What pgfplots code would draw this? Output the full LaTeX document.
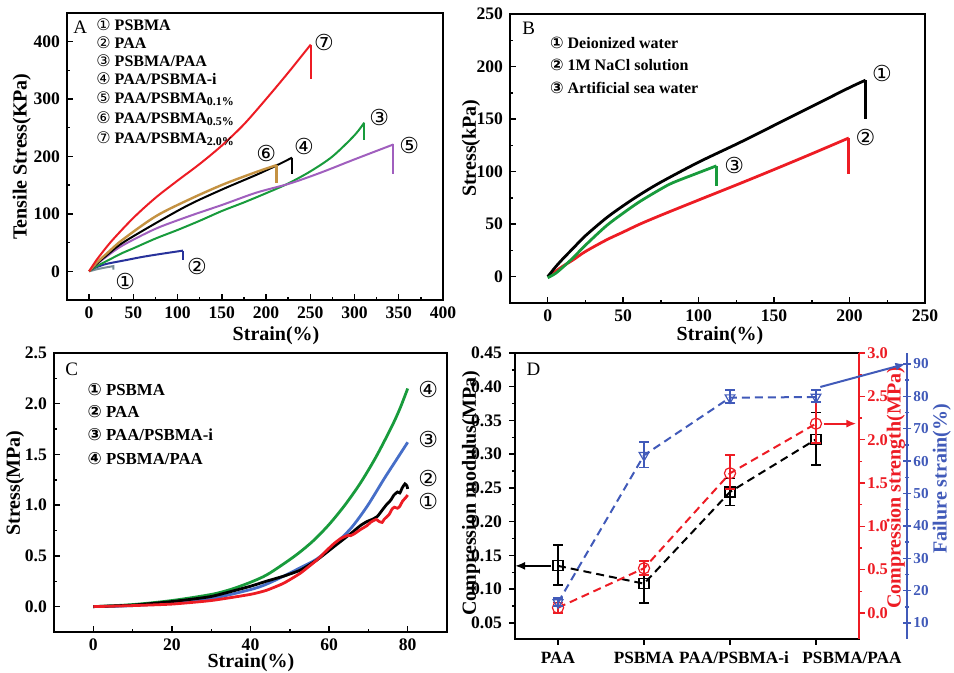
\documentclass[border=0pt]{standalone}
\usepackage{fontspec}
\setmainfont{Liberation Serif}
\newfontfamily\dv{DejaVu Sans}
\usepackage{pgfplots}
\pgfplotsset{compat=1.18}
\usetikzlibrary{arrows.meta}

\definecolor{cred}{RGB}{237,28,36}
\definecolor{cgreen}{RGB}{24,155,60}
\definecolor{cpurple}{RGB}{160,95,190}
\definecolor{cbrown}{RGB}{196,146,66}
\definecolor{cnavy}{RGB}{40,50,155}
\definecolor{cgray}{RGB}{120,140,150}
\definecolor{cblue}{RGB}{70,110,200}
\definecolor{dblue}{RGB}{65,90,185}

\pgfplotsset{
  panel/.style={
    scale only axis, anchor=south west, clip=false,
    axis line style={line width=0.9pt},
    tick align=inside, xtick pos=bottom, ytick pos=left,
    minor tick num=1,
    major tick length=3pt, minor tick length=1.6pt,
    every tick/.style={black, line width=0.7pt},
    tick label style={font=\fontsize{8.8}{9}\selectfont\bfseries},
    label style={font=\fontsize{10}{12}\selectfont\bfseries},
    /pgf/number format/assume math mode=true,
  },
  ylab/.style 2 args={ylabel style={at={(axis description cs:#1,#2)}, anchor=center}},
  xlab/.style 2 args={xlabel style={at={(axis description cs:#1,#2)}, anchor=center}},
}
\tikzset{cl/.style={font=\fontsize{11}{12}\selectfont\dv}}
\newcommand{\legfont}{\fontsize{8}{9}\selectfont\bfseries}
\newcommand{\legfontc}{\fontsize{8.4}{9}\selectfont\bfseries}

\begin{document}
\begin{tikzpicture}
\useasboundingbox (0,0) rectangle (477pt,336.5pt);

% ---------------- A
\begin{axis}[panel, at={(33.5pt,186.5pt)}, width=188pt, height=143.5pt,
  xmin=-25, xmax=400, ymin=-50, ymax=450,
  xtick={0,50,...,400}, ytick={0,100,...,400},
  xlabel={Strain(\%)}, ylabel={Tensile Stress(KPa)},
  ylab={-0.12}{0.5}, xlab={0.556}{-0.125}]
\addplot[cgray, line width=1pt] coordinates {(0,0) (10,4) (20,7) (27.5,9) (27.5,3)};
\addplot[cnavy, line width=1pt, smooth] coordinates {(0,0) (5,5) (10,8) (20,13) (40,19) (60,25) (80,30) (106,36)};
\addplot[cnavy, line width=1pt] coordinates {(106,36) (106,19)};
\addplot[cgreen, line width=1pt, smooth] coordinates {(0,0) (10,10) (20,18) (37.8,32) (50,40) (75,57) (100,72) (125,88) (150,105) (175,120) (200,136) (225,153) (250,174) (275,200) (300,237) (311,259)};
\addplot[cgreen, line width=1pt] coordinates {(311,259) (311,229)};
\addplot[cpurple, line width=1pt, smooth] coordinates {(0,0) (10,14) (20,26) (37.8,45) (75,74) (113,96) (151,116) (189,137) (227,153) (262,172) (300,195) (344,221)};
\addplot[cpurple, line width=1pt] coordinates {(344,221) (344,169)};
\addplot[black, line width=1pt, smooth] coordinates {(0,0) (10,15) (20,28) (37.8,49.5) (75.5,84) (113,116) (151,143) (189,168) (210,183) (229.5,198)};
\addplot[black, line width=1pt] coordinates {(229.5,198) (229.5,169)};
\addplot[cbrown, line width=1.2pt, smooth] coordinates {(0,0) (5,9) (10,17) (20,31) (37.8,55) (75.5,96) (113,125) (151,151) (189,173) (212,185)};
\addplot[cbrown, line width=1.2pt] coordinates {(212,185) (212,154)};
\addplot[cred, line width=1pt, smooth] coordinates {(0,0) (5,12) (10,23) (25,52) (50,93) (75,128) (100,158) (125,187) (150,219) (175,256) (200,300) (225,346) (250.5,395)};
\addplot[cred, line width=1pt] coordinates {(250.5,395) (250.5,335)};
\node[cl] at (axis cs:265.5,398.8) {⑦};
\node[cl] at (axis cs:327.8,267.8) {③};
\node[cl] at (axis cs:361.8,220) {⑤};
\node[cl] at (axis cs:242.9,217) {④};
\node[cl] at (axis cs:200.2,205.6) {⑥};
\node[cl] at (axis cs:122,8.7) {②};
\node[cl] at (axis cs:40.8,-17.5) {①};
\end{axis}

% ---------------- B
\begin{axis}[panel, at={(255pt,185pt)}, width=207.5pt, height=144.5pt,
  xmin=-25, xmax=250, ymin=-25, ymax=250,
  xtick={0,50,...,250}, ytick={0,50,...,250},
  xlabel={Strain(\%)}, ylabel={Stress(kPa)},
  ylab={-0.094}{0.536}, xlab={0.506}{-0.112}]
\addplot[cred, line width=1.4pt, smooth] coordinates {(0,0) (5,5) (10,10) (16.8,16) (25,24) (38.9,35) (50,42.5) (61,50) (75,58.5) (100,73) (127,88.5) (150,102) (175,117) (199.5,132)};
\addplot[cred, line width=1.4pt] coordinates {(199.5,132) (199.5,98)};
\addplot[black, line width=1.4pt, smooth] coordinates {(0,0) (5,9) (10,17) (16.8,27) (25,39) (38.9,56) (50,67.5) (61,78) (75,90) (100,109) (127,127.5) (150,144) (175,162) (200,180) (210.6,187)};
\addplot[black, line width=1.4pt] coordinates {(210.6,187) (210.6,150)};
\addplot[cgreen, line width=1.4pt, smooth] coordinates {(0,-1) (5,3) (10,9) (16.8,18) (25,30) (38.9,48.5) (50,60.5) (61,71.5) (75,83.5) (83,89.5) (100,99) (111.8,105.5)};
\addplot[cgreen, line width=1.4pt] coordinates {(111.8,105.5) (111.8,86)};
\node[cl] at (axis cs:221.5,193.5) {①};
\node[cl] at (axis cs:210.6,132.6) {②};
\node[cl] at (axis cs:123.6,106.3) {③};
\end{axis}

% ---------------- C
\begin{axis}[panel, at={(27pt,20.5pt)}, width=196.5pt, height=139.5pt,
  xmin=-10, xmax=90, ymin=-0.25, ymax=2.5,
  xtick={0,20,...,80}, ytick={0,0.5,1,1.5,2,2.5},
  yticklabel style={/pgf/number format/.cd, fixed, fixed zerofill, precision=1},
  xlabel={Strain(\%)}, ylabel={Stress(MPa)},
  ylab={-0.099}{0.534}, xlab={0.501}{-0.11}]
\addplot[cgreen, line width=1.4pt, smooth] coordinates {(0,0) (10,0.02) (20,0.06) (30,0.12) (35,0.17) (40,0.24) (44,0.31) (48,0.41) (52,0.52) (56,0.65) (60,0.81) (64,1.0) (68,1.22) (72,1.48) (76,1.78) (78,1.95) (80,2.15)};
\addplot[cblue, line width=1.4pt, smooth] coordinates {(0,0) (10,0.01) (20,0.04) (30,0.08) (39.9,0.167) (44,0.22) (48.4,0.30) (52,0.37) (56.9,0.47) (61,0.6) (65.5,0.77) (69.7,0.99) (74,1.26) (77,1.44) (80,1.62)};
\addplot[black, line width=1.4pt, smooth, tension=0.3] coordinates {(0,0) (10,0.015) (20,0.05) (30,0.1) (39.9,0.2) (44,0.25) (48.4,0.30) (52.7,0.36) (56.9,0.46) (61.2,0.59) (65.5,0.72) (68,0.8) (69.7,0.84) (71,0.86) (72.3,0.89) (73.5,0.95) (74.5,1.0) (75.7,1.05) (76.5,1.1) (77.4,1.13) (78,1.12) (78.6,1.17) (79.3,1.21) (79.8,1.19) (80,1.16)};
\addplot[cred, line width=1.4pt, smooth, tension=0.3] coordinates {(0,0) (10,0.01) (20,0.025) (30,0.06) (39.9,0.12) (44,0.16) (48.4,0.23) (52.7,0.33) (56.9,0.46) (59,0.54) (61.2,0.62) (62.9,0.67) (64.6,0.70) (65.5,0.70) (66.5,0.72) (68,0.76) (69.7,0.8) (70.5,0.83) (71.4,0.85) (72,0.86) (72.7,0.84) (73.5,0.83) (74,0.86) (75.3,0.91) (76,0.96) (76.6,0.98) (77.4,0.97) (78,0.99) (78.7,1.04) (79.4,1.07) (80,1.1)};
\node[cl] at (axis cs:85.2,2.14) {④};
\node[cl] at (axis cs:85.2,1.65) {③};
\node[cl] at (axis cs:85.2,1.26) {②};
\node[cl] at (axis cs:85.2,1.04) {①};
\end{axis}

% ---------------- D
\begin{axis}[panel, tick align=outside, at={(257.5pt,17pt)}, width=172pt, height=143pt,
  xmin=-0.5, xmax=3.5, ymin=0.026, ymax=0.45,
  xtick={0,1,2,3}, minor x tick num=0,
  xticklabels={PAA,PSBMA,\kern4pt PAA/PSBMA-i,\kern36pt PSBMA/PAA},
  xticklabel style={font=\fontsize{8.6}{10}\selectfont\bfseries},
  ytick={0.05,0.1,0.15,0.2,0.25,0.3,0.35,0.4,0.45},
  yticklabel style={/pgf/number format/.cd, fixed, fixed zerofill, precision=2},
  ylabel={Compression modulus(MPa)}, ylab={-0.128}{0.51}]
\addplot[black, line width=1pt, dash pattern=on 4pt off 2.5pt, mark=square, mark size=2.5pt,
  mark options={solid, fill=white, line width=0.6pt},
  error bars/.cd, y dir=both, y explicit,
  error bar style={solid, line width=0.8pt},
  error mark options={rotate=90, mark size=2.5pt, line width=0.8pt}]
  table[x=x, y=y, y error plus=p, y error minus=m] {
x y p m
0 0.1344 0.031 0.0285
1 0.108 0.034 0.029
2 0.244 0.020 0.020
3 0.322 0.040 0.038
};
\draw[-{Latex[length=5pt,width=4pt]}, line width=1pt] (axis cs:-0.08,0.1344) -- (axis cs:-0.5,0.1344);
\end{axis}

\begin{axis}[scale only axis, anchor=south west, clip=false, at={(257.5pt,17pt)}, width=172pt, height=143pt,
  xmin=-0.5, xmax=3.5, ymin=-0.3, ymax=3,
  hide x axis, axis y line*=right, tick align=outside,
  axis line style={cred, line width=0.9pt},
  every tick/.style={cred, line width=0.7pt}, major tick length=3pt, minor tick length=1.6pt,
  ytick={0,0.5,1,1.5,2,2.5,3}, minor y tick num=1,
  yticklabel style={cred, inner sep=1pt, font=\fontsize{8.2}{9}\selectfont\bfseries, /pgf/number format/.cd, fixed, fixed zerofill, precision=1},
  /pgf/number format/assume math mode=true,
  ylabel={Compression strength(MPa)},
  ylabel style={cred, font=\fontsize{10}{12}\selectfont\bfseries, at={(axis description cs:1.107,0.528)}, anchor=center}]
\addplot[cred, line width=1pt, dash pattern=on 4pt off 2.5pt, mark=o, mark size=2.8pt,
  mark options={solid, fill=white, line width=0.6pt},
  error bars/.cd, y dir=both, y explicit,
  error bar style={solid, line width=0.8pt},
  error mark options={rotate=90, mark size=2.5pt, line width=0.8pt}]
  table[x=x, y=y, y error plus=p, y error minus=m] {
x y p m
0 0.061 0.06 0.058
1 0.516 0.084 0.081
2 1.612 0.21 0.18
3 2.185 0.245 0.225
};
\draw[-{Latex[length=5pt,width=4pt]}, cred, line width=1pt] (axis cs:3.09,2.185) -- (axis cs:3.47,2.185);
\end{axis}

\begin{axis}[scale only axis, anchor=south west, clip=false, at={(257.5pt,17pt)}, width=196pt, height=143pt,
  xmin=-0.5, xmax=4.0581, ymin=5.06, ymax=93.4,
  hide x axis, axis y line*=right, tick align=center,
  axis line style={dblue, line width=0.9pt},
  every tick/.style={dblue, line width=0.7pt}, major tick length=4pt, minor tick length=2pt,
  ytick={10,20,...,90}, minor y tick num=1,
  yticklabel style={dblue, inner sep=1pt, font=\fontsize{7.6}{9}\selectfont\bfseries},
  /pgf/number format/assume math mode=true,
  ylabel={Failure strain(\%)},
  ylabel style={dblue, font=\fontsize{10}{12}\selectfont\bfseries, at={(axis description cs:1.089,0.56)}, anchor=center}]
\addplot[dblue, line width=1pt, dash pattern=on 4pt off 2.5pt, mark=triangle, mark size=2.8pt,
  mark options={solid, fill=white, line width=0.6pt, rotate=180},
  error bars/.cd, y dir=both, y explicit,
  error bar style={solid, line width=0.8pt},
  error mark options={rotate=90, mark size=2.5pt, line width=0.8pt}]
  table[x=x, y=y, y error plus=p, y error minus=m] {
x y p m
0 16.3 1.5 1.0
1 61.8 4.1 3.8
2 79.6 2.4 1.6
3 79.8 2.2 1.5
};
\draw[-{Latex[length=5pt,width=4pt]}, dblue, line width=1pt] (axis cs:3.05,82.9) -- (axis cs:4.04,90);
\end{axis}

% ---------------- panel letters and legends (positions in image pixels)
\begin{scope}[x=0.5pt, y=-0.5pt, shift={(0pt,336.5pt)}]
\node[anchor=base west, inner sep=0, font=\fontsize{9.5}{10}\selectfont] at (73,34) {A};
\node[anchor=base west, inner sep=0, font=\fontsize{9.5}{10}\selectfont] at (522,35) {B};
\node[anchor=base west, inner sep=0, font=\fontsize{9.5}{10}\selectfont] at (65,375.3) {C};
\node[anchor=base west, inner sep=0, font=\fontsize{9.5}{10}\selectfont] at (526.3,376) {D};
% A
\node[anchor=base west, inner sep=0, font=\legfont] at (96,30.7) {{\dv\mdseries ①} PSBMA};
\node[anchor=base west, inner sep=0, font=\legfont] at (96,48.3) {{\dv\mdseries ②} PAA};
\node[anchor=base west, inner sep=0, font=\legfont] at (96,66.7) {{\dv\mdseries ③} PSBMA/PAA};
\node[anchor=base west, inner sep=0, font=\legfont] at (96,85) {{\dv\mdseries ④} PAA/PSBMA-i};
\node[anchor=base west, inner sep=0, font=\legfont] at (96,103.3) {{\dv\mdseries ⑤} PAA/PSBMA\textsubscript{0.1\%}};
\node[anchor=base west, inner sep=0, font=\legfont] at (96,123.3) {{\dv\mdseries ⑥} PAA/PSBMA\textsubscript{0.5\%}};
\node[anchor=base west, inner sep=0, font=\legfont] at (96,143.3) {{\dv\mdseries ⑦} PAA/PSBMA\textsubscript{2.0\%}};
% B
\node[anchor=base west, inner sep=0, font=\legfont] at (549.7,48.3) {{\dv ①} Deionized water};
\node[anchor=base west, inner sep=0, font=\legfont] at (549.7,71) {{\dv ②} 1M NaCl solution};
\node[anchor=base west, inner sep=0, font=\legfont] at (549.7,93.3) {{\dv ③} Artificial sea water};
% C
\node[anchor=base west, inner sep=0, font=\legfontc] at (87.3,395.3) {{\dv ①} PSBMA};
\node[anchor=base west, inner sep=0, font=\legfontc] at (87.3,417.7) {{\dv ②} PAA};
\node[anchor=base west, inner sep=0, font=\legfontc] at (87.3,441) {{\dv ③} PAA/PSBMA-i};
\node[anchor=base west, inner sep=0, font=\legfontc] at (87.3,464.3) {{\dv ④} PSBMA/PAA};
\end{scope}
\end{tikzpicture}
\end{document}
